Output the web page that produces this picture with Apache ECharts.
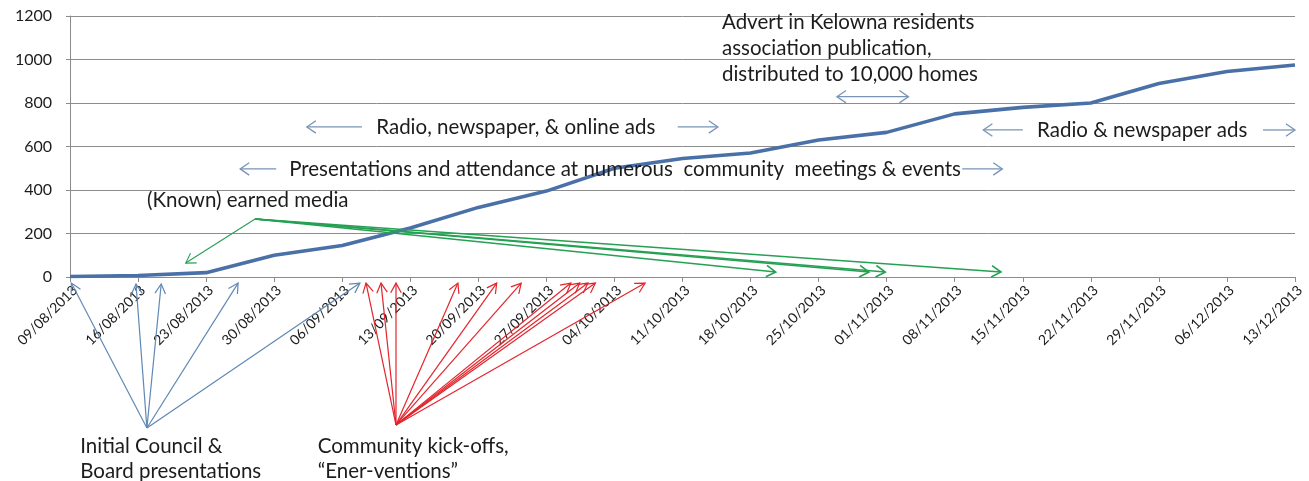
<!DOCTYPE html>
<html>
<head>
<meta charset="utf-8">
<script src="https://cdn.jsdelivr.net/npm/echarts@6/dist/echarts.min.js"></script>
<style>
  html, body { margin: 0; padding: 0; background: #ffffff; }
  #chart { width: 1309px; height: 481px; }
</style>
</head>
<body>
<div id="chart"></div>
<script>
// Weekly reporting dates
const weeks = [
  '09/08/2013', '16/08/2013', '23/08/2013', '30/08/2013', '06/09/2013',
  '13/09/2013', '20/09/2013', '27/09/2013', '04/10/2013', '11/10/2013',
  '18/10/2013', '25/10/2013', '01/11/2013', '08/11/2013', '15/11/2013',
  '22/11/2013', '29/11/2013', '06/12/2013', '13/12/2013'
];

// Cumulative total at each weekly date
const cumulative = [
  2, 7, 20, 100, 145, 225, 320, 395, 500, 545,
  570, 630, 665, 750, 780, 800, 890, 945, 975
];

// Value-axis tick range
const yMin = 0;
const yMax = 1200;
const yStep = 200;

// Campaign activities, anchored in (week index, value) units
const councilLabel = ['Initial Council &', 'Board presentations'];
const councilOrigin = [1.13, -694];
const councilTargets = [[0.02, -28], [0.97, -32], [1.34, -32], [2.47, -28], [4.26, -28]];

const kickoffLabel = ['Community kick-offs,', '\u201CEner-ventions\u201D'];
const kickoffOrigin = [4.79, -680];
const kickoffTargets = [
  [4.35, -28], [4.57, -28], [4.79, -28], [5.70, -28], [6.27, -28], [6.63, -28],
  [7.36, -28], [7.49, -28], [7.61, -28], [7.72, -28], [8.45, -28]
];

const mediaLabel = '(Known) earned media';
const mediaApex = [2.72, 267];
const mediaTargets = [[1.70, 64], [10.37, 23], [11.74, 23], [11.98, 23], [13.68, 23]];

const advertLines = [
  'Advert in Kelowna residents',
  'association publication,',
  'distributed to 10,000 homes'
];

const spanTexts = [
  'Presentations and attendance at numerous  community  meetings & events',
  'Radio, newspaper, & online ads',
  'Radio & newspaper ads'
];

const chart = echarts.init(document.getElementById('chart'), null, { renderer: 'canvas' });
const FONT = 'Lato, "Open Sans", sans-serif';
const TEXT = '#1c1c1c';
const GRID = '#8c8c8c';
const NOTE_SIZE = 20.5;

chart.setOption({
  animation: false,
  backgroundColor: '#ffffff',
  grid: { left: 70, right: 14, top: 16, bottom: 204, containLabel: false },
  xAxis: [
    {
      type: 'category',
      data: weeks,
      boundaryGap: false,
      axisLine: { lineStyle: { color: GRID, width: 1 } },
      axisTick: { show: true, length: 5, lineStyle: { color: GRID } },
      axisLabel: {
        rotate: 45, interval: 0, margin: 6, verticalAlign: 'top',
        color: TEXT, fontFamily: FONT, fontSize: 14
      },
      splitLine: { show: false }
    },
    {
      // hidden linear twin of the week axis, used to place annotations
      type: 'value', min: 0, max: weeks.length - 1, show: false
    }
  ],
  yAxis: {
    type: 'value',
    min: yMin, max: yMax, interval: yStep,
    axisLine: { show: true, lineStyle: { color: GRID, width: 1 } },
    axisTick: { show: true, length: 4, lineStyle: { color: GRID } },
    axisLabel: {
      color: TEXT, fontFamily: FONT, fontSize: 16, margin: 18,
      formatter: v => String(v)
    },
    splitLine: { show: true, lineStyle: { color: GRID, width: 1 } }
  },
  series: [{
    type: 'line',
    data: cumulative,
    xAxisIndex: 0,
    showSymbol: false,
    symbol: 'none',
    lineStyle: { color: '#4a70a8', width: 3.6 },
    z: 3
  }]
});

// ---- annotations ----
function px(p) {
  return [
    chart.convertToPixel({ xAxisIndex: 1 }, p[0]),
    chart.convertToPixel({ yAxisIndex: 0 }, p[1])
  ];
}

function arrow(from, to, color, width, head, spread) {
  const a = px(from), b = px(to);
  const ang = Math.atan2(b[1] - a[1], b[0] - a[0]);
  const s = spread || 0.55;
  const l = [b[0] - head * Math.cos(ang - s), b[1] - head * Math.sin(ang - s)];
  const r = [b[0] - head * Math.cos(ang + s), b[1] - head * Math.sin(ang + s)];
  return [
    { type: 'polyline', silent: true, z: 10, shape: { points: [a, b] },
      style: { stroke: color, lineWidth: width, fill: null } },
    { type: 'polyline', silent: true, z: 10, shape: { points: [l, b, r] },
      style: { stroke: color, lineWidth: width, fill: null } }
  ];
}

function label(text, at, align) {
  const p = px(at);
  return {
    type: 'text', silent: true, z: 11, x: p[0], y: p[1],
    style: {
      text: text, fill: TEXT, font: NOTE_SIZE + 'px ' + FONT,
      textAlign: align || 'left', textVerticalAlign: 'middle'
    }
  };
}

const SPAN = '#7895b5';
const BLUE = '#6088b4';
const RED = '#e3252c';
const GREEN = '#26a053';
let g = [];

// council presentations
councilTargets.forEach(t => { g = g.concat(arrow(councilOrigin, t, BLUE, 1.2, 11, 0.5)); });
g.push(label(councilLabel[0], [0.15, -777]));
g.push(label(councilLabel[1], [0.15, -892]));

// community kick-offs
kickoffTargets.forEach(t => { g = g.concat(arrow(kickoffOrigin, t, RED, 1.2, 11, 0.5)); });
g.push(label(kickoffLabel[0], [3.64, -777]));
g.push(label(kickoffLabel[1], [3.64, -892]));

// earned media
mediaTargets.forEach((t, i) => {
  g = g.concat(arrow(mediaApex, t, GREEN, i === 0 ? 1.1 : 1.6, 11, 0.55));
});
g.push(label(mediaLabel, [1.13, 354]));

// presentations & meetings
g = g.concat(arrow([3.03, 497], [2.50, 497], SPAN, 1.3, 11, 0.6));
g.push(label(spanTexts[0], [3.22, 497]));
g = g.concat(arrow([13.11, 497], [13.70, 497], SPAN, 1.3, 11, 0.6));

// radio, newspaper & online
g = g.concat(arrow([4.29, 690], [3.48, 690], SPAN, 1.3, 11, 0.6));
g.push(label(spanTexts[1], [4.50, 690]));
g = g.concat(arrow([8.93, 690], [9.52, 690], SPAN, 1.3, 11, 0.6));

// advert
g.push(label(advertLines[0], [9.58, 1169]));
g.push(label(advertLines[1], [9.58, 1052]));
g.push(label(advertLines[2], [9.58, 933]));
g = g.concat(arrow([11.80, 829], [11.27, 829], SPAN, 1.3, 11, 0.6));
g = g.concat(arrow([11.80, 829], [12.32, 829], SPAN, 1.3, 11, 0.6));

// radio & newspaper
g = g.concat(arrow([14.00, 676], [13.42, 676], SPAN, 1.3, 11, 0.6));
g.push(label(spanTexts[2], [14.21, 676]));
g = g.concat(arrow([17.53, 676], [18.00, 676], SPAN, 1.3, 11, 0.6));

chart.setOption({ graphic: { elements: g } });
</script>
</body>
</html>
